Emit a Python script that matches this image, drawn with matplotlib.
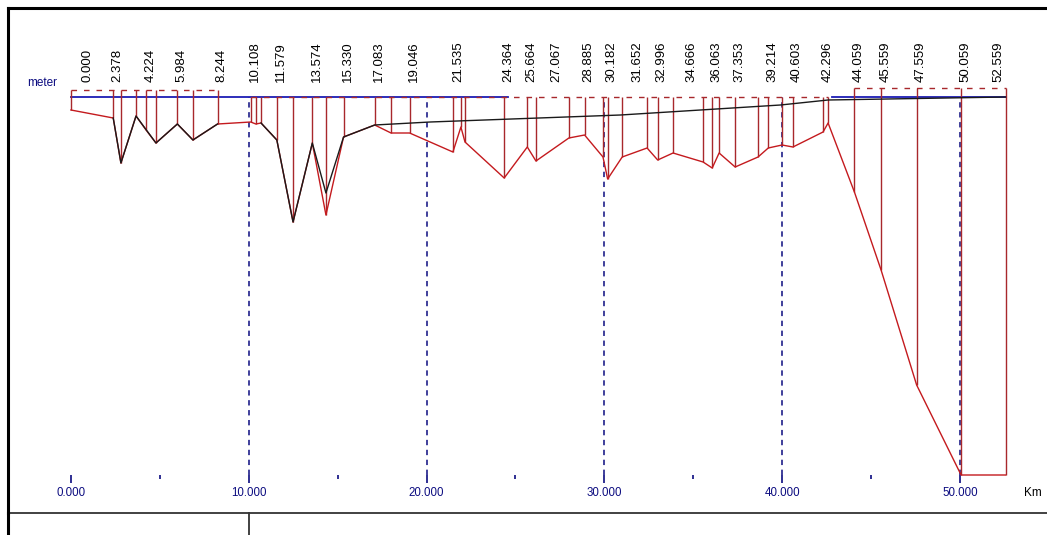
import numpy as np
import matplotlib
matplotlib.use("Agg")
import matplotlib.pyplot as plt

plt.rcParams['font.family'] = ['Liberation Sans', 'DejaVu Sans']

# Cross-section stations along the reach (km) and bed elevation (m, relative to datum)
station_km = [0.000, 2.378, 2.81, 3.66, 4.224, 4.78, 5.984, 6.86, 8.244,
              10.108, 10.40, 10.69, 11.579, 12.49, 13.574, 14.34, 15.330,
              17.083, 18.00, 19.046, 21.48, 21.93, 22.16, 24.364, 25.664,
              26.15, 28.00, 28.885, 29.92, 30.182, 31.00, 32.40, 32.996,
              33.86, 35.55, 36.063, 36.45, 37.353, 38.64, 39.214, 39.99,
              40.603, 42.296, 42.58, 44.059, 45.559, 47.559, 50.059, 52.559]
bed_elev = [-1.3, -2.1, -6.6, -1.9, -3.3, -4.6, -2.7, -4.3, -2.7,
            -2.5, -2.7, -2.6, -4.3, -12.5, -4.6, -11.8, -4.0,
            -2.8, -3.6, -3.6, -5.5, -3.0, -4.5, -8.1, -5.0,
            -6.4, -4.1, -3.8, -6.0, -8.2, -6.0, -5.1, -6.3,
            -5.6, -6.5, -7.1, -5.6, -7.0, -6.0, -5.1, -4.8,
            -5.0, -3.5, -2.6, -9.5, -17.3, -28.8, -37.8, -37.8]
bank_elev = [0.7] * 9 + [0.0] * 35 + [0.9] * 5

# Second longitudinal line (black)
black_km = [2.378, 2.81, 3.66, 4.78, 5.984, 6.86, 8.244, np.nan,
            10.69, 11.579, 12.49, 13.574, 14.34, 15.330, 17.083,
            20.2, 30.9, 39.9, 42.58, 52.559]
black_elev = [-2.1, -6.6, -1.9, -4.6, -2.7, -4.3, -2.7, np.nan,
              -2.6, -4.3, -12.5, -4.6, -9.6, -4.0, -2.8,
              -2.5, -1.8, -0.8, -0.3, 0.0]

# Reference level (blue) spans, km
ref_spans = [(0.0, 24.58), (42.8, 52.559)]

# Labelled chainages along the top
label_km = [0.000, 2.378, 4.224, 5.984, 8.244, 10.108, 11.579, 13.574,
            15.330, 17.083, 19.046, 21.535, 24.364, 25.664, 27.067, 28.885,
            30.182, 31.652, 32.996, 34.666, 36.063, 37.353, 39.214, 40.603,
            42.296, 44.059, 45.559, 47.559, 50.059, 52.559]

# Distance axis
major_ticks = [0, 10, 20, 30, 40, 50]
minor_ticks = [5, 15, 25, 35, 45]

NAVY = '#0c0c80'
BLUE = '#1c1cb4'
RED = '#c41a1e'
DARKRED = '#a8282c'

W, H = 1047, 535
fig = plt.figure(figsize=(W / 100, H / 100), dpi=100)
ax = fig.add_axes([8 / W, 22 / H, (W - 8) / W, 505 / H])
ax.set_xlim(-3.54, 54.89)
ax.set_ylim(-41.6, 8.9)
ax.set_xticks([])
ax.set_yticks([])
ax.spines['right'].set_visible(False)
ax.spines['top'].set_linewidth(2.2)
ax.spines['left'].set_linewidth(2.2)
ax.spines['bottom'].set_linewidth(1.3)
ax.spines['bottom'].set_color('#333333')

deepest = min(bed_elev)

# dashed verticals at the major distance marks
ax.vlines(major_ticks[1:], deepest, 0.0, colors=NAVY, linewidth=1.1,
          linestyles=(0, (3.5, 3)), zorder=1)

# reference level
for a, b in ref_spans:
    ax.plot([a, b], [0.0, 0.0], color=BLUE, linewidth=1.3, zorder=2)

# dashed bank line, one run per constant bank level
start = 0
for i in range(1, len(station_km) + 1):
    if i == len(station_km) or bank_elev[i] != bank_elev[start]:
        ax.plot([station_km[start], station_km[i - 1]],
                [bank_elev[start], bank_elev[start]],
                color=DARKRED, linewidth=1.0, linestyle=(0, (4, 5)), zorder=3)
        start = i

# station verticals
ax.vlines(station_km, bed_elev, bank_elev, colors=DARKRED, linewidth=1.0, zorder=3)

# bed profile and black line
ax.plot(station_km, bed_elev, color=RED, linewidth=1.0, zorder=4)
ax.plot(black_km, black_elev, color='#1a1a1a', linewidth=1.0, zorder=5)

# chainage labels
for km in label_km:
    x = min(max(km, 0.67), 51.93)
    ax.annotate(f"{km:.3f}", xy=(x, 1.5), xytext=(3, 0), textcoords='offset points',
                rotation=90, ha='center', va='bottom', fontsize=9.5, color='black')

ax.text(-1.62, 1.4, 'meter', ha='center', va='center', fontsize=8.5, color=NAVY)

# distance axis
ylo, yhi = ax.get_ylim()
loc = (deepest - ylo) / (yhi - ylo)
sec = ax.secondary_xaxis(loc)
sec.spines['bottom'].set_visible(False)
sec.set_xticks(major_ticks)
sec.set_xticks(minor_ticks, minor=True)
sec.xaxis.set_major_formatter(lambda v, p: f"{v:.3f}")
sec.tick_params(which='major', length=6, width=1.2, color=NAVY,
                labelcolor=NAVY, labelsize=8.3, pad=3)
sec.tick_params(which='minor', length=3, width=1.2, color=NAVY)
ax.annotate('Km', xy=(54.1, deepest), xytext=(0, -13), textcoords='offset points',
            ha='center', va='center', fontsize=8.5, color='black')

# lower panel frame
ax2 = fig.add_axes([8 / W, 0, (249 - 8) / W, 22 / H])
ax2.set_xticks([])
ax2.set_yticks([])
ax2.spines['top'].set_visible(False)
ax2.spines['bottom'].set_visible(False)
ax2.spines['left'].set_linewidth(2.2)
ax2.spines['right'].set_linewidth(1.3)
ax2.spines['right'].set_color('#333333')
ax2.patch.set_alpha(0)

fig.savefig('out.png', dpi=100)
